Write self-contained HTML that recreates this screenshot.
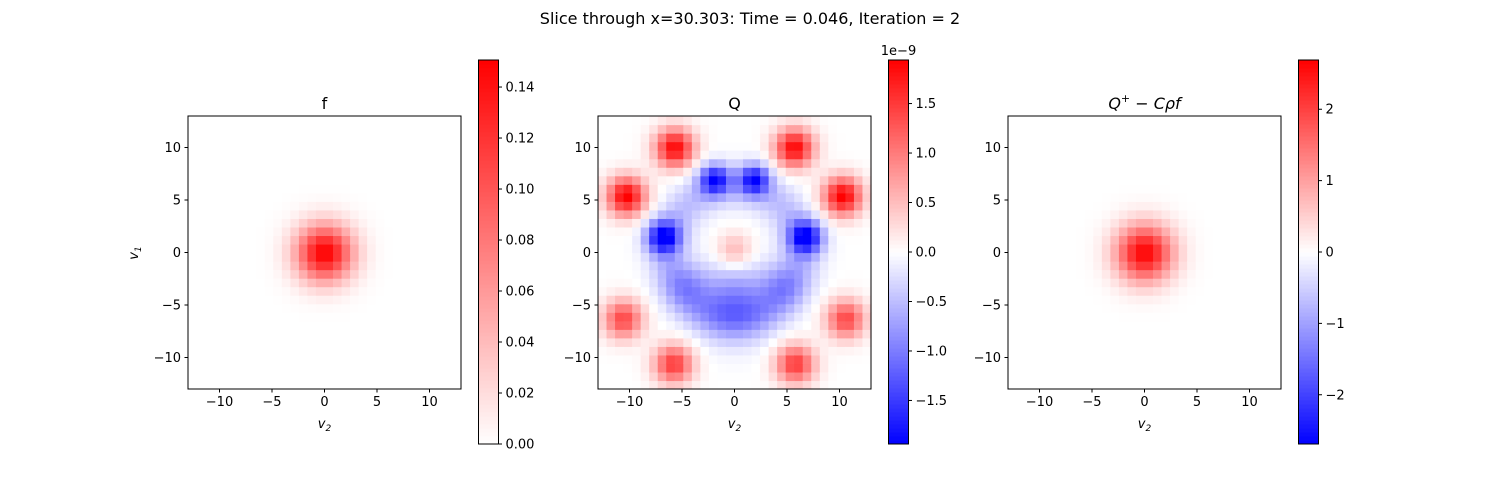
<!DOCTYPE html>
<html><head><meta charset="utf-8">
<style>
html,body{margin:0;padding:0;background:#fff;}
svg{display:block;font-family:"DejaVu Sans","Liberation Sans",sans-serif;}
</style></head>
<body>
<svg id="fig" width="1500" height="500" viewBox="0 0 1500 500" xmlns="http://www.w3.org/2000/svg">
<rect width="1500" height="500" fill="#fff"/>
<text x="750" y="24" text-anchor="middle" font-size="16">Slice through x=30.303: Time = 0.046, Iteration = 2</text>
</svg>
<script>
// grid / axis data
const gridN = 32;
const vMin = -13, vMax = 13;
const axisTicks = [-10, -5, 0, 5, 10];
// f panel: gaussian peak
const fAmp = [0.15];
const fSigma = [1.9];
// Q panel blobs (units 1e-9)
const qBlobX =   [-5.7, 5.7, -10.3, 10.3, -10.6, 10.6, -5.8, 5.8, 0,   -1.9, 1.9, -6.8, 6.8, 0,   -4.5, 4.5];
const qBlobY =   [10,   10,   5.4,   5.4,  -6.3, -6.3, -10.6,-10.6,0.2, 7,   7,    1.5,  1.5, -4.6, -3, -3];
const qBlobAmp = [1.9,  1.9,  1.95,  1.95, 1.4,  1.4,  1.5,  1.5, 0.6,  -1.6,-1.6, -1.8, -1.8, -0.9, -0.5, -0.5];
const qBlobSig = [1.3,  1.3,  1.3,   1.3,  1.3,  1.3,  1.3,  1.3, 1.2,  1.0, 1.0,  1.1,  1.1,  2.4, 1.5, 1.5];
const qRingRadius = [6.3];
const qRingAmp = [-0.5];
const qRingSig = [1.4];
// panel 3
const gAmp = [2.65];
const gSigma = [1.9];
// colorbar ranges and ticks
const cb1Range = [0, 0.1506];
const cb1Ticks = [0, 0.02, 0.04, 0.06, 0.08, 0.10, 0.12, 0.14];
const cb1Labels = ["0.00","0.02","0.04","0.06","0.08","0.10","0.12","0.14"];
const cb2Range = [-1.94, 1.94];
const cb2Ticks = [-1.5, -1.0, -0.5, 0, 0.5, 1.0, 1.5];
const cb2Labels = ["−1.5","−1.0","−0.5","0.0","0.5","1.0","1.5"];
const cb3Range = [-2.69, 2.69];
const cb3Ticks = [-2, -1, 0, 1, 2];
const cb3Labels = ["−2","−1","0","1","2"];

const NS = "http://www.w3.org/2000/svg";
const svg = document.getElementById('fig');
function mk(tag, attrs, parent) {
  const e = document.createElementNS(NS, tag);
  for (const k in attrs) e.setAttribute(k, attrs[k]);
  (parent || svg).appendChild(e);
  return e;
}
function bwr(t) {
  t = Math.max(0, Math.min(1, t));
  let r, g, b;
  if (t < 0.5) { r = g = Math.round(510 * t); b = 255; }
  else { r = 255; g = b = Math.round(510 * (1 - t)); }
  return `rgb(${r},${g},${b})`;
}
function fVal(x, y) { return fAmp[0] * Math.exp(-(x*x + y*y) / (2*fSigma[0]*fSigma[0])); }
function gVal(x, y) { return gAmp[0] * Math.exp(-(x*x + y*y) / (2*gSigma[0]*gSigma[0])); }
function qVal(x, y) {
  let s = 0;
  for (let i = 0; i < qBlobX.length; i++) {
    const dx = x - qBlobX[i], dy = y - qBlobY[i];
    s += qBlobAmp[i] * Math.exp(-(dx*dx + dy*dy) / (2*qBlobSig[i]*qBlobSig[i]));
  }
  const r = Math.sqrt(x*x + y*y) - qRingRadius[0];
  s += qRingAmp[0] * Math.exp(-r*r / (2*qRingSig[0]*qRingSig[0]));
  return s;
}

function panel(opts) {
  const L = opts.left, T = 116, S = 273;
  const xs = v => L + (v - vMin) / (vMax - vMin) * S;
  const ys = v => T + (vMax - v) / (vMax - vMin) * S;
  const g = mk('g', {});
  
  
  const step = (vMax - vMin) / gridN;
  const [lo, hi] = opts.range;
  for (let i = 0; i < gridN; i++) {
    for (let j = 0; j < gridN; j++) {
      const vx = vMin + step * (i + 0.5), vy = vMin + step * (j + 0.5);
      const val = opts.fn(vx, vy);
      const t = opts.cmapLow ? 0.5 + 0.5 * (val - lo) / (hi - lo) : (val - lo) / (hi - lo);
      const c = mk('rect', {x: xs(vMin + step*i).toFixed(2), y: ys(vMin + step*(j+1)).toFixed(2),
        width: (step / (vMax - vMin) * S + 0.6).toFixed(2), height: (step / (vMax - vMin) * S + 0.6).toFixed(2), fill: bwr(t)}, g);
      
      
    }
  }
  const fr = mk('rect', {x: L, y: T, width: S, height: S, fill: 'none', stroke: '#000', 'stroke-width': 1}, g);
  
  
  axisTicks.forEach(v => {
    const x = xs(v);
    mk('line', {x1: x, x2: x, y1: T + S, y2: T + S + 3.5, stroke: '#000'}, g);
    const tx = mk('text', {x: x, y: T + S + 17, 'text-anchor': 'middle', 'font-size': 13}, g);
    tx.textContent = v < 0 ? '−' + Math.abs(v) : String(v);
    
    
    const y = ys(v);
    mk('line', {x1: L - 3.5, x2: L, y1: y, y2: y, stroke: '#000'}, g);
    const ty = mk('text', {x: L - 7, y: y + 4.5, 'text-anchor': 'end', 'font-size': 13}, g);
    ty.textContent = v < 0 ? '−' + Math.abs(v) : String(v);
    
    
  });
  const xl = mk('text', {x: L + S/2, y: 428, 'text-anchor': 'middle', 'font-size': 13, 'font-style': 'italic'}, g);
  xl.innerHTML = 'v<tspan font-size="9" dy="3">2</tspan>';
  
  
  const tt = mk('text', {x: L + S/2, y: 109, 'text-anchor': 'middle', 'font-size': 16}, g);
  tt.innerHTML = opts.title;
  
  
  // colorbar
  const cL = L + S + 17.5, cT = 60, cH = 384, cW = 20;
  const cb = mk('g', {}, g);
  
  
  const n = 96;
  for (let k = 0; k < n; k++) {
    const t0 = k / n;
    const t = opts.cmapLow ? 0.5 + 0.5 * (t0 + 0.5/n) : (t0 + 0.5/n);
    mk('rect', {x: cL, y: (cT + cH - (k+1) * cH / n).toFixed(2), width: cW, height: (cH/n + 0.5).toFixed(2), fill: bwr(t)}, cb);
  }
  mk('rect', {x: cL, y: cT, width: cW, height: cH, fill: 'none', stroke: '#000'}, cb);
  opts.ticks.forEach((v, i) => {
    const y = cT + cH - (v - lo) / (hi - lo) * cH;
    mk('line', {x1: cL + cW, x2: cL + cW + 3.5, y1: y, y2: y, stroke: '#000'}, cb);
    const t = mk('text', {x: cL + cW + 7, y: y + 4.5, 'font-size': 13}, cb);
    t.textContent = opts.labels[i];
    
    
  });
  if (opts.offset) {
    const o = mk('text', {x: cL + cW/2, y: 55, 'text-anchor': 'middle', 'font-size': 13}, cb);
    o.textContent = opts.offset;
    
    
  }
  return g;
}

panel({name: 'panel-f', left: 188, fn: fVal, range: cb1Range, cmapLow: true, ticks: cb1Ticks, labels: cb1Labels, title: 'f'});
panel({name: 'panel-q', left: 598, fn: qVal, range: cb2Range, ticks: cb2Ticks, labels: cb2Labels, title: 'Q', offset: '1e−9'});
panel({name: 'panel-q-plus', left: 1008, fn: gVal, range: cb3Range, ticks: cb3Ticks, labels: cb3Labels,
  title: '<tspan font-style="italic">Q</tspan><tspan font-size="11" dy="-7">+</tspan><tspan dy="7"> − </tspan><tspan font-style="italic">Cρf</tspan>'});

const yl = mk('text', {x: 0, y: 0, 'text-anchor': 'middle', 'font-size': 13, 'font-style': 'italic', transform: 'translate(138,253) rotate(-90)'});
yl.innerHTML = 'v<tspan font-size="9" dy="3">1</tspan>';


</script>
</body></html>
